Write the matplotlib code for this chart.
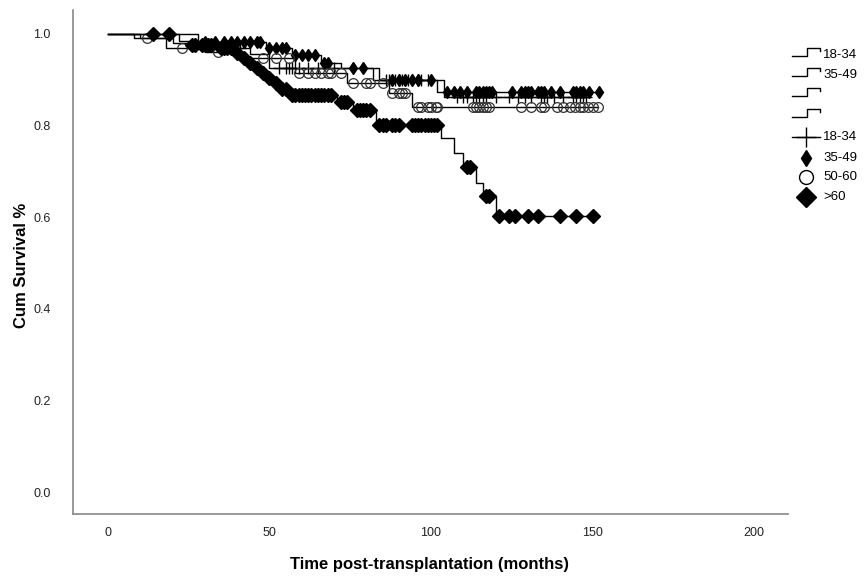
import numpy as np
import matplotlib.pyplot as plt
from matplotlib.lines import Line2D

plt.rcParams['font.family'] = ['Liberation Sans', 'DejaVu Sans']

# Kaplan-Meier curves: drop times, survival after drop, censor times
g1_event_t = [10, 20, 30, 44, 50, 84, 104]
g1_event_s = [0.990, 0.980, 0.970, 0.955, 0.926, 0.900, 0.862]
g1_censor = [35, 38, 41, 53, 55, 56, 57, 59, 62, 65, 70, 86, 87, 89, 90, 91, 93, 94,
             96, 97, 99, 108, 110, 111, 113, 114, 115, 116, 117, 120, 124, 127, 129,
             131, 134, 135, 136, 138, 141, 144, 145, 146, 147, 148]

g2_event_t = [28, 49, 57, 66, 72, 82, 102]
g2_event_s = [0.983, 0.970, 0.954, 0.937, 0.926, 0.900, 0.873]
g2_censor = [30, 33, 36, 38, 40, 42, 44, 46, 47, 50, 52, 54, 55, 58, 60, 62, 64, 67, 68,
             76, 79, 88, 90, 92, 94, 96, 100, 105, 107, 109, 111, 114, 115, 116, 117,
             118, 119, 125, 128, 129, 130, 131, 133, 134, 135, 137, 140, 144, 145, 146,
             147, 149, 152]

g3_event_t = [8, 18, 30, 40, 58, 74, 87, 94]
g3_event_s = [0.990, 0.970, 0.960, 0.947, 0.915, 0.893, 0.871, 0.841]
g3_censor = [12, 23, 34, 48, 52, 56, 59, 62, 64, 66, 68, 69, 72, 76, 80, 81, 85, 88, 90,
             91, 92, 96, 97, 99, 100, 101.5, 102, 113, 114, 115, 116, 117, 118, 128, 131,
             134, 135, 139, 141, 143, 144.5, 146, 147, 148.5, 150, 151.7]

g4_event_t = [22, 25, 33, 39, 41, 43, 45, 47, 49, 51, 53, 56, 71, 76, 83, 103, 107, 110,
              114, 116, 120]
g4_event_s = [0.985, 0.976, 0.968, 0.958, 0.948, 0.937, 0.926, 0.915, 0.903, 0.893,
              0.880, 0.867, 0.852, 0.834, 0.801, 0.773, 0.740, 0.710, 0.675, 0.645, 0.603]
g4_censor = [14, 19, 26, 27, 29, 30, 31, 32, 35, 36, 37, 38, 40, 42, 44, 46, 48, 50, 52,
             54, 55, 57, 58, 59, 60, 61, 62, 63, 64, 65, 66, 67, 68, 69, 72, 73, 74, 77,
             78, 79, 80, 81, 84, 85, 86, 88, 89, 90, 94, 95, 96, 97, 98, 99, 100, 101,
             102, 111, 112, 117, 118, 121, 124, 126, 130, 133, 140, 145, 150]

groups = ['18-34', '35-49', '50-60', '>60']

W, H = 866, 582
fig = plt.figure(figsize=(W / 100, H / 100), dpi=100)
ax = fig.add_axes([73 / W, 1 - 514 / H, (788 - 73) / W, (514 - 10) / H])


def km_plot(ev_t, ev_s, cens, marker, ms):
    t = np.concatenate([[0], ev_t, [max(cens)]])
    s = np.concatenate([[1.0], ev_s, [ev_s[-1]]])
    ax.step(t, s, where='post', color='black', lw=1)
    levels = np.concatenate([[1.0], ev_s])
    cs = levels[np.searchsorted(ev_t, cens, side='right')]
    ax.plot(cens, cs, linestyle='none', **marker, markersize=ms)


km_plot(g1_event_t, g1_event_s, g1_censor,
        dict(marker='+', color='black', mew=1), 8)
km_plot(g2_event_t, g2_event_s, g2_censor,
        dict(marker='d', color='black'), 6.5)
km_plot(g3_event_t, g3_event_s, g3_censor,
        dict(marker='o', mfc='none', mec='#333333', mew=0.9), 7)
km_plot(g4_event_t, g4_event_s, g4_censor,
        dict(marker='D', color='black'), 7.5)

ax.set_xlim(-10.8, 210.5)
ax.set_ylim(-0.048, 1.052)
ax.set_xticks([0, 50, 100, 150, 200])
ax.set_yticks([0.0, 0.2, 0.4, 0.6, 0.8, 1.0])
ax.set_yticklabels(['0.0', '0.2', '0.4', '0.6', '0.8', '1.0'])
ax.tick_params(length=0, labelsize=9, colors='#222222', pad=9)
ax.tick_params(axis='y', pad=16)
for side in ['top', 'right']:
    ax.spines[side].set_visible(False)
for side in ['left', 'bottom']:
    ax.spines[side].set_color('#888888')
    ax.spines[side].set_linewidth(1.2)

fig.text(430 / W, 1 - 565 / H, 'Time post-transplantation (months)',
         ha='center', va='center', fontsize=12, fontweight='bold')
fig.text(22 / W, 1 - 265 / H, 'Cum Survival %', rotation=90,
         ha='center', va='center', fontsize=12, fontweight='bold')


# legend drawn in pixel positions of the figure
def fx(x):
    return x / W


def fy(y):
    return 1 - y / H


step_labels = ['18-34', '35-49', '', '']
step_rows = [55, 75, 95, 116]
for lab, y in zip(step_labels, step_rows):
    xs = [792, 807, 807, 820, 820]
    ys = [y + 1, y + 1, y - 7, y - 7, y - 4]
    fig.add_artist(Line2D([fx(v) for v in xs], [fy(v) for v in ys],
                          color='black', lw=1))
    fig.text(fx(823), fy(y), lab, ha='left', va='center', fontsize=9.5)

cens_rows = [137, 158, 177, 197]
cens_styles = [dict(marker='+', color='black', mew=1, markersize=14),
               dict(marker='d', color='black', markersize=8),
               dict(marker='o', mfc='none', mec='black', mew=1, markersize=10),
               dict(marker='D', color='black', markersize=10)]
for lab, y, st in zip(groups, cens_rows, cens_styles):
    if lab == '18-34':
        fig.add_artist(Line2D([fx(792), fx(820)], [fy(y), fy(y)], color='black', lw=1))
    fig.add_artist(Line2D([fx(806)], [fy(y)], linestyle='none', **st))
    fig.text(fx(823), fy(y), lab, ha='left', va='center', fontsize=9.5)

fig.savefig('out.png', dpi=100)
